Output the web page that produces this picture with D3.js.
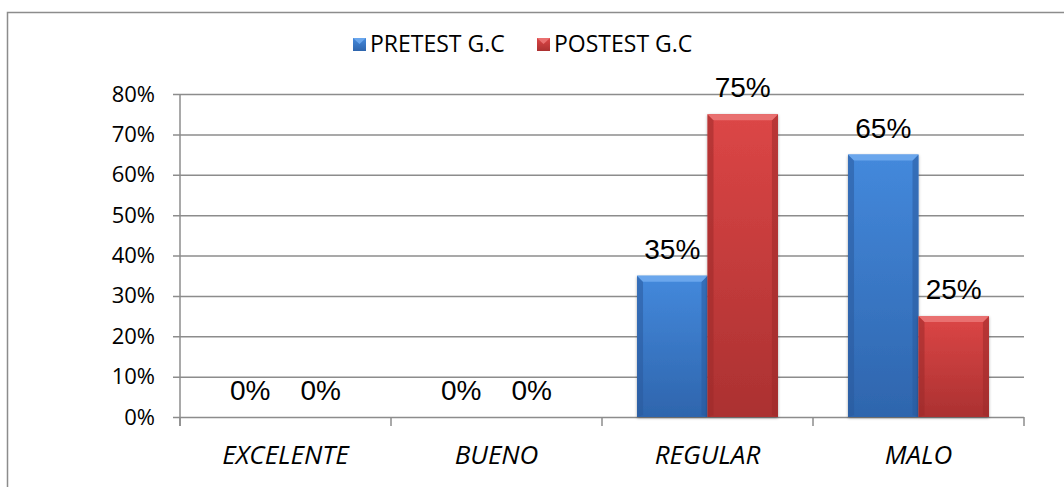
<!DOCTYPE html>
<html>
<head>
<meta charset="utf-8">
<script src="https://cdn.jsdelivr.net/npm/d3@7"></script>
<style>
  body { margin: 0; background: #fff; }
  svg { display: block; }
</style>
</head>
<body>
<svg width="1064" height="487"></svg>
<script>
// data
var categories = ['EXCELENTE', 'BUENO', 'REGULAR', 'MALO'];
var seriesNames = ['PRETEST G.C', 'POSTEST G.C'];
var pretest = [0, 0, 0.35, 0.65];
var postest = [0, 0, 0.75, 0.25];
var yTickValues = [0, 0.1, 0.2, 0.3, 0.4, 0.5, 0.6, 0.7, 0.8];

var svg = d3.select('svg');
var plotLeft = 180, plotRight = 1024, plotTop = 94, plotBottom = 417;
var axisFont = '"Open Sans", sans-serif';

// outer frame (only top and left visible)
svg.append('path').attr('d', 'M7.5,487 L7.5,12.5 L1064,12.5')
  .attr('fill', 'none').attr('stroke', '#8c8c8c').attr('stroke-width', 1.5);

var x = d3.scaleBand().domain(categories).range([plotLeft, plotRight]).paddingInner(0.332).paddingOuter(0.166);
var x1 = d3.scaleBand().domain(seriesNames).range([0, x.bandwidth()]);
var y = d3.scaleLinear().domain([0, 0.8]).range([plotBottom, plotTop]);

// gradients
var defs = svg.append('defs');
var palette = {
  'PRETEST G.C': { top: '#4489dc', bottom: '#2e65ad', light: '#6aa6ec', dark: '#2a5a9c' },
  'POSTEST G.C': { top: '#dc4646', bottom: '#ab3131', light: '#e97070', dark: '#9c2a2a' }
};
seriesNames.forEach(function(s, i){
  var lg = defs.append('linearGradient').attr('id', 'grad' + i)
    .attr('x1', 0).attr('y1', 0).attr('x2', 0).attr('y2', 1);
  lg.append('stop').attr('offset', '0%').attr('stop-color', palette[s].top);
  lg.append('stop').attr('offset', '100%').attr('stop-color', palette[s].bottom);
});
var shadow = defs.append('filter').attr('id', 'shadow').attr('x', '-20%').attr('y', '-20%').attr('width', '140%').attr('height', '140%');
shadow.append('feDropShadow').attr('dx', 0).attr('dy', 1).attr('stdDeviation', 1.5).attr('flood-color', '#000').attr('flood-opacity', 0.35);

// gridlines
svg.append('g').attr('transform', 'translate(' + (plotLeft - 7) + ',0)')
  .call(d3.axisLeft(y).tickValues(yTickValues).tickSize(-(plotRight - plotLeft + 7)).tickFormat(''))
  .call(function(g){ g.select('.domain').remove(); })
  .selectAll('line').attr('stroke', '#8c8c8c').attr('stroke-width', 1.5);

// y axis
var yAxis = svg.append('g').attr('transform', 'translate(' + plotLeft + ',0)')
  .call(d3.axisLeft(y).tickValues(yTickValues).tickSize(0).tickPadding(25).tickSizeOuter(0).tickFormat(d3.format('.0%')));
yAxis.select('.domain').attr('stroke', '#8c8c8c').attr('stroke-width', 1.5)
  .attr('d', 'M0,' + plotTop + 'V' + (plotBottom + 9));
yAxis.selectAll('text').attr('font-family', axisFont).attr('font-size', 22).attr('fill', '#000');

// x axis boundary ticks
var gap = (x.step() - x.bandwidth()) / 2;
var bounds = categories.map(function(c){ return x(c) - gap; }).concat([plotRight]);
svg.append('g').selectAll('line').data(bounds).join('line')
  .attr('x1', function(d){ return d; }).attr('x2', function(d){ return d; })
  .attr('y1', plotBottom).attr('y2', plotBottom + 9)
  .attr('stroke', '#8c8c8c').attr('stroke-width', 1.5);

var xAxis = svg.append('g').attr('transform', 'translate(0,' + plotBottom + ')')
  .call(d3.axisBottom(x).tickSize(0).tickPadding(0));
xAxis.select('.domain').remove();
xAxis.selectAll('text').attr('font-family', axisFont).attr('font-size', 26)
  .attr('font-style', 'italic').attr('dy', null).attr('y', 47).attr('fill', '#000');

// bars
var rows = [];
categories.forEach(function(c, i){
  rows.push({ cat: c, s: seriesNames[0], v: pretest[i], idx: 0 });
  rows.push({ cat: c, s: seriesNames[1], v: postest[i], idx: 1 });
});

var bars = svg.append('g').selectAll('g').data(rows.filter(function(d){ return d.v > 0; })).join('g')
  .attr('transform', function(d){ return 'translate(' + (x(d.cat) + x1(d.s)) + ',' + y(d.v) + ')'; });
var bw = x1.bandwidth(), bev = 6;
bars.append('rect').attr('width', bw).attr('height', function(d){ return plotBottom - y(d.v); })
  .attr('fill', function(d){ return 'url(#grad' + d.idx + ')'; }).attr('filter', 'url(#shadow)');
// side bevels
bars.append('path').attr('d', function(d){ var h = plotBottom - y(d.v); return 'M0,0 L' + bev + ',' + bev + ' L' + bev + ',' + (h - 2) + ' L0,' + h + 'Z'; })
  .attr('fill', function(d){ return palette[d.s].dark; }).attr('opacity', 0.55);
bars.append('path').attr('d', function(d){ var h = plotBottom - y(d.v); return 'M' + bw + ',0 L' + (bw - bev) + ',' + bev + ' L' + (bw - bev) + ',' + (h - 2) + ' L' + bw + ',' + h + 'Z'; })
  .attr('fill', function(d){ return palette[d.s].dark; }).attr('opacity', 0.55);
// top bevel
bars.append('path').attr('d', 'M0,0 L' + bw + ',0 L' + (bw - bev) + ',' + bev + ' L' + bev + ',' + bev + 'Z')
  .attr('fill', function(d){ return palette[d.s].light; });

// data labels
svg.append('g').selectAll('text').data(rows).join('text')
  .attr('x', function(d){ return x(d.cat) + x1(d.s) + bw / 2; })
  .attr('y', function(d){ return y(d.v) - 17; })
  .attr('text-anchor', 'middle')
  .attr('font-family', '"Liberation Sans", Arial, sans-serif').attr('font-size', 28)
  .text(function(d){ return d3.format('.0%')(d.v); });

// legend
var legendX = [353, 537];
var legend = svg.append('g').selectAll('g').data(seriesNames).join('g')
  .attr('transform', function(d, i){ return 'translate(' + legendX[i] + ',38)'; });
legend.append('rect').attr('width', 13).attr('height', 13)
  .attr('fill', function(d, i){ return 'url(#grad' + i + ')'; });
legend.append('path').attr('d', 'M0,0 L13,0 L6.5,6Z').attr('fill', function(d){ return palette[d].light; });
legend.append('text').attr('x', 17).attr('y', 14)
  .attr('font-family', axisFont).attr('font-size', 23).attr('fill', '#000')
  .text(function(d){ return d; });
</script>
</body>
</html>
